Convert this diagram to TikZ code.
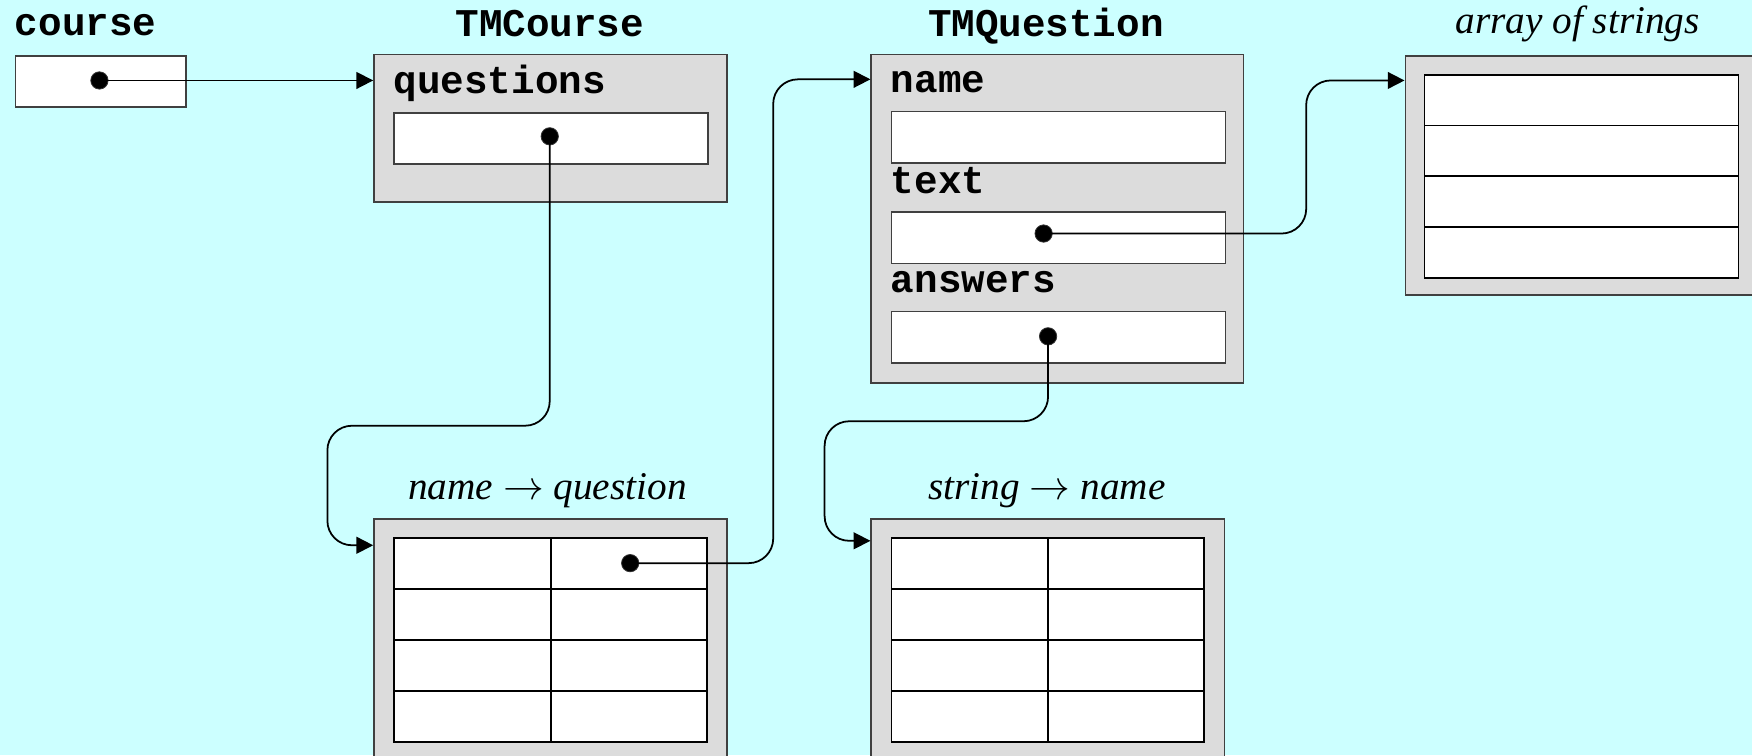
\documentclass[tikz,border=0pt]{standalone}
\usepackage{fontspec}
\setmainfont{Liberation Serif}
\setmonofont{Liberation Mono}
\usepackage{tikz}
\usetikzlibrary{arrows.meta,shapes}
\definecolor{bgcyan}{HTML}{CCFFFF}
\definecolor{boxgray}{HTML}{DCDCDC}
\tikzstyle{object}=[draw=black!75,fill=boxgray,line width=0.9pt,inner sep=0pt,anchor=north west]
\tikzstyle{field}=[draw=black!75,fill=white,line width=0.9pt,inner sep=0pt,anchor=north west,minimum height=9.2mm]
\tikzstyle{cell}=[draw=black,fill=white,line width=0.9pt,inner sep=0pt,anchor=north west,minimum width=28mm,minimum height=9.1mm]
\tikzstyle{pointer}=[circle,fill=black,draw=black!80,minimum size=3.1mm,inner sep=0pt]
\tikzstyle{ptr}=[draw,line width=0.9pt,-{Triangle[length=3mm,width=3mm]},rounded corners=4.4mm]
\tikzstyle{cls}=[font=\ttfamily\bfseries\fontsize{20}{24}\selectfont,inner sep=0pt]
\tikzstyle{kind}=[font=\itshape\fontsize{20}{24}\selectfont,inner sep=0pt]

\begin{document}
\begin{tikzpicture}[x=0.2mm,y=-0.2mm]
   \useasboundingbox (0,0) rectangle (1568,676);
   \fill[bgcyan] (0,0) rectangle (1568,676);
   \clip (0,0) rectangle (1568,676);
   % titles
   \node[cls,anchor=base west] (tcourse) at (13,32) {course};
   \node[cls,anchor=base] (ttmc) at (492,33) {TMCourse};
   \node[cls,anchor=base] (ttmq) at (936,33) {TMQuestion};
   \node[kind,anchor=base] (tarr) at (1412,30) {array of strings};
   \node[kind,anchor=base] (tmapq) at (490,447) {name $\rightarrow$ question};
   \node[kind,anchor=base] (tmapn) at (937,447) {string $\rightarrow$ name};
   % variable and objects
   \node[field,minimum width=30.6mm] (course) at (13,49) {};
   \node[object,minimum width=63.2mm,minimum height=26.4mm] (tmc) at (334,48) {};
   \node[cls,anchor=base west] (lquestions) at (352,84) {questions};
   \node[field,minimum width=56.2mm] (fquestions) at (352,100) {};
   \node[object,minimum width=66.6mm,minimum height=58.8mm] (tmq) at (779,48) {};
   \foreach \y/\fld in {83/name,173/text,262/answers}{
        \node[cls,anchor=base west] (l\fld) at (797,\y) {\fld};
        \node[field,minimum width=59.8mm] (f\fld) at (797,\y+16) {};
   }
   \node[object,minimum width=64mm,minimum height=42.8mm] (arr) at (1257,49) {};
   \foreach \r in {0,...,3}
        \node[cell,minimum width=56.2mm] (s\r) at (1274,{66+45.5*\r}) {};
   \node[object,minimum width=63.2mm,minimum height=48mm] (mapq) at (334,464) {};
   \node[object,minimum width=63.2mm,minimum height=48mm] (mapn) at (779,464) {};
   \foreach \r in {0,...,3}
        \foreach \c in {0,1}{
            \node[cell] (q\r\c) at ({352+140*\c},{481+45.5*\r}) {};
            \node[cell] (n\r\c) at ({797+140*\c},{481+45.5*\r}) {};
        }
   % pointers
   \node[pointer] (cdot) at (89,72) {};
   \node[pointer] (qdot) at (492,122) {};
   \node[pointer] (mdot) at (564,504) {};
   \node[pointer] (tdot) at (934,209) {};
   \node[pointer] (adot) at (938,301) {};
   \coordinate (b1) at (293,381);
   \coordinate (b2) at (293,488);
   \coordinate (b3) at (692,71);
   \coordinate (b4) at (1169,72);
   \coordinate (b5) at (738,377);
   \coordinate (b6) at (738,484);
   \path[ptr] (cdot.center) -- (tmc.west |- cdot);
   \path[ptr] (qdot.center) |- (b1) -- (b2) -- (mapq.west |- b2);
   \path[ptr] (mdot.center) -| (b3) -- (tmq.west |- b3);
   \path[ptr] (tdot.center) -| (b4) -- (arr.west |- b4);
   \path[ptr] (adot.center) |- (b5) -- (b6) -- (mapn.west |- b6);
\end{tikzpicture}
\end{document}
